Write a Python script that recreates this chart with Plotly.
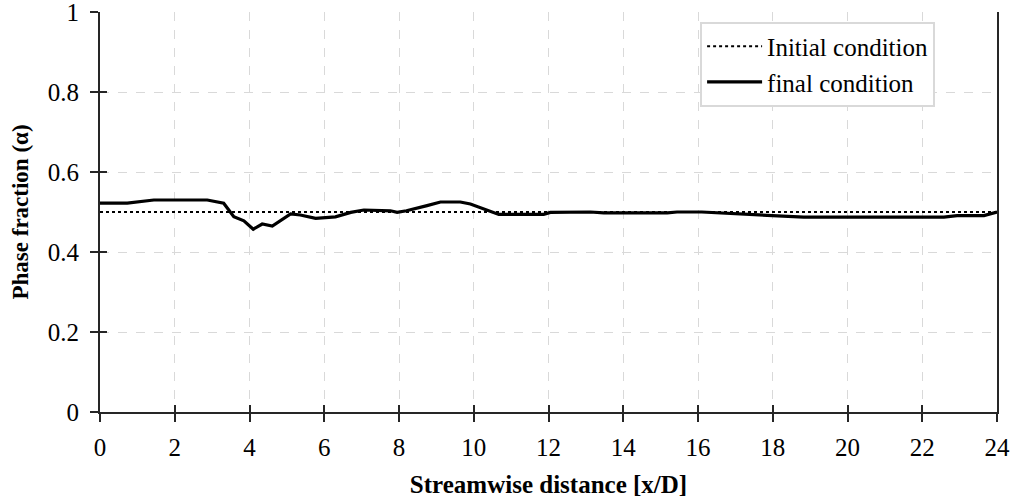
import plotly.graph_objects as go

# Data
init_x = [0, 24]
init_y = [0.5, 0.5]

final_x = [0, 0.73, 1.44, 2.87, 3.31, 3.45, 3.58, 3.85, 4.10, 4.34, 4.61, 5.10, 5.36,
           5.77, 6.30, 6.71, 7.06, 7.77, 7.95, 8.20, 8.40, 8.75, 9.11, 9.64, 9.91,
           10.27, 10.67, 11.87, 12.05, 13.12, 13.48, 15.18, 15.44, 16.10, 16.50,
           16.69, 17.23, 17.94, 18.83, 22.58, 22.93, 23.65, 24.0]
final_y = [0.522, 0.522, 0.530, 0.530, 0.522, 0.505, 0.488, 0.478, 0.457, 0.470, 0.465,
           0.495, 0.4925, 0.484, 0.488, 0.499, 0.505, 0.503, 0.499, 0.503, 0.507,
           0.516, 0.525, 0.525, 0.520, 0.5075, 0.494, 0.494, 0.499, 0.500, 0.498,
           0.498, 0.500, 0.500, 0.498, 0.497, 0.494, 0.490, 0.487, 0.487, 0.491,
           0.491, 0.500]

x_ticks = [0, 2, 4, 6, 8, 10, 12, 14, 16, 18, 20, 22, 24]
y_ticks = [0, 0.2, 0.4, 0.6, 0.8, 1]
y_ticktext = ["0", "0.2", "0.4", "0.6", "0.8", "1"]

FONT = "Liberation Serif, Times New Roman, serif"

fig = go.Figure()
fig.add_trace(go.Scatter(x=init_x, y=init_y, mode="lines", name="Initial condition",
                         line=dict(color="black", width=2, dash="dot")))
fig.add_trace(go.Scatter(x=final_x, y=final_y, mode="lines", name="final condition",
                         line=dict(color="black", width=3.2)))
# invisible trace on overlay axes to make crossing ticks
fig.add_trace(go.Scatter(x=init_x, y=init_y, mode="lines", showlegend=False,
                         hoverinfo="skip", line=dict(width=0, color="rgba(0,0,0,0)"),
                         xaxis="x2", yaxis="y2"))

axis_common = dict(showline=True, linecolor="#262626", linewidth=2,
                   tickcolor="#262626", tickwidth=1.5, ticklen=8,
                   zeroline=False, automargin=False, ticklabeloverflow="allow")

fig.update_layout(
    width=1013, height=501,
    margin=dict(l=100, r=16, t=12, b=89, autoexpand=False),
    paper_bgcolor="white", plot_bgcolor="white",
    font=dict(family=FONT, color="black", size=25),
    xaxis=dict(range=[0, 24], tickvals=x_ticks, ticks="outside",
               showgrid=True, gridcolor="#d9d9d9", griddash="dash", gridwidth=1,
               tickfont=dict(size=25, family=FONT), ticklabelstandoff=4,
               title=dict(text="<b>Streamwise distance [x/D]</b>",
                          font=dict(size=25, family=FONT), standoff=15),
               **axis_common),
    yaxis=dict(range=[0, 1], tickvals=y_ticks, ticktext=y_ticktext, ticks="outside",
               showgrid=True, gridcolor="#d9d9d9", griddash="dash", gridwidth=1,
               mirror=True, ticklabelstandoff=6,
               tickfont=dict(size=25, family=FONT),
               title=dict(text="<b>Phase fraction (α)</b>",
                          font=dict(size=23, family=FONT), standoff=13),
               **axis_common),
    xaxis2=dict(range=[0, 24], tickvals=x_ticks, ticks="inside", ticklen=7,
                tickwidth=1.5, tickcolor="#262626", showticklabels=False,
                showgrid=False, zeroline=False, overlaying="x", anchor="y2",
                side="bottom"),
    yaxis2=dict(range=[0, 1], tickvals=y_ticks, ticks="inside", ticklen=7,
                tickwidth=1.5, tickcolor="#262626", showticklabels=False,
                showgrid=False, zeroline=False, overlaying="y", anchor="x2",
                side="left"),
    legend=dict(x=0.669, y=0.976, xanchor="left", yanchor="top",
                bgcolor="white", bordercolor="#d9d9d9", borderwidth=2,
                itemwidth=55,
                font=dict(size=25, family=FONT)),
    showlegend=True,
)

fig.write_html("out.html")
